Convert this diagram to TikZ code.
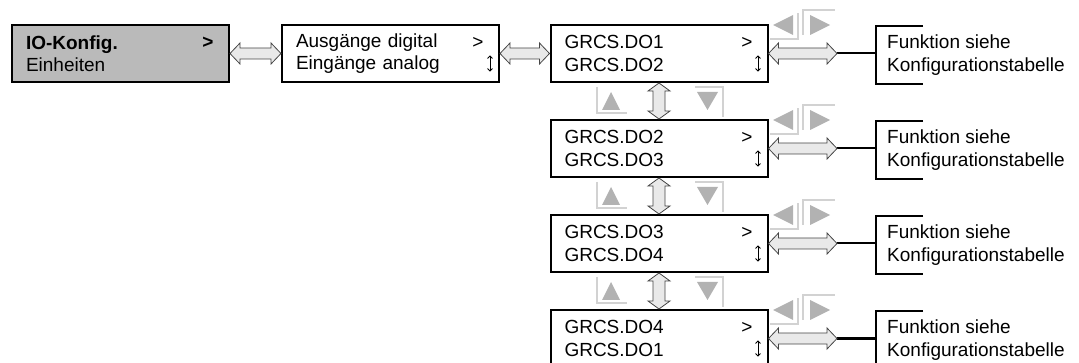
\documentclass[tikz,border=0pt]{standalone}
\usepackage{fontspec}
\setmainfont{Liberation Sans}
\usetikzlibrary{positioning,calc,arrows.meta}

% Blockpfeile zwischen zwei Punkten
\newcommand{\hpfeil}[2]{%
  \path[pfeil] let \p1=(#1), \p2=(#2) in
    (\x1,\y1) -- (\x1+10pt,\y1+10.5pt) -- (\x1+10pt,\y1+5.5pt) -- (\x2-10pt,\y1+5.5pt)
    -- (\x2-10pt,\y1+10.5pt) -- (\x2,\y1) -- (\x2-10pt,\y1-10.5pt) -- (\x2-10pt,\y1-5.5pt)
    -- (\x1+10pt,\y1-5.5pt) -- (\x1+10pt,\y1-10.5pt) -- cycle;}
\newcommand{\vpfeil}[2]{%
  \path[pfeil] let \p1=(#1), \p2=(#2) in
    (\x1,\y1) -- (\x1+11pt,\y1-8pt) -- (\x1+6pt,\y1-8pt) -- (\x1+6pt,\y2+8pt)
    -- (\x1+11pt,\y2+8pt) -- (\x1,\y2) -- (\x1-11pt,\y2+8pt) -- (\x1-6pt,\y2+8pt)
    -- (\x1-6pt,\y1-8pt) -- (\x1-11pt,\y1-8pt) -- cycle;}

\begin{document}
\begin{tikzpicture}[
    x=1pt, y=-1pt,
    box/.style={
        draw=black,
        line width=2pt,
        minimum width=217pt,
        minimum height=57pt,
        text width=189pt,
        inner xsep=14pt,
        inner ysep=0pt,
        align=left,
        font=\fontsize{19}{22.5}\selectfont
    },
    zeichen/.style={inner sep=0pt, font=\fontsize{19}{22.5}\selectfont},
    scroll/.style={inner sep=0pt, minimum width=6pt, minimum height=16pt},
    scrollpfeil/.style={{Straight Barb[length=2.5pt,width=5pt]}-{Straight Barb[length=2.5pt,width=5pt]}, line width=0.9pt},
    funktion/.style={
        minimum height=57pt,
        inner xsep=11pt,
        inner ysep=0pt,
        align=left,
        font=\fontsize{19}{22.5}\selectfont
    },
    pfeil/.style={draw=gray!55!black, fill=gray!17, line width=0.8pt},
    taste/.style={fill=gray!60, draw=none},
    tastenrand/.style={draw=gray!35, line width=1.6pt},
    klammer/.style={draw=black, line width=2pt}
]
\useasboundingbox (0,0) rectangle (1079,363);

% Menue links
\node[box, fill=black!27] (k1) at (120.5,53.5) {\textbf{IO-Konfig.}\\Einheiten};
\node[zeichen] (k1g) at (208,42.5) {\textbf{>}};

\node[box] (k2) at (390.5,53.5) {Ausgänge digital\\Eingänge analog};
\node[zeichen] (k2g) at (478,42.5) {>};
\node[scroll] (k2p) at (490,63.5) {};
\draw[scrollpfeil] (k2p.north) -- (k2p.south);

\hpfeil{k1.east}{k2.west}

% Ausgaenge
\foreach \i/\a/\b in {1/DO1/DO2, 2/DO2/DO3, 3/DO3/DO4, 4/DO4/DO1} {
    \pgfmathsetmacro{\cy}{53.5+95*(\i-1)}
    \node[box] (d\i) at (659,\cy) {GRCS.\a\\GRCS.\b};
    \node[zeichen] (d\i g) at (747,\cy-11) {>};
    \node[scroll] (d\i p) at (758,\cy+10) {};
    \draw[scrollpfeil] (d\i p.north) -- (d\i p.south);

    % Funktion
    \coordinate (e\i) at (837,\cy);
    \node[funktion, anchor=west] (f\i) at (876,\cy+1.5) {Funktion siehe\\Konfigurationstabelle};
    \draw[klammer] ([xshift=47pt]f\i.north west) -- (f\i.north west)
        -- (f\i.south west) -- ([xshift=47pt]f\i.south west);
    \draw[klammer] (e\i) -- (f\i.west |- e\i);
    \hpfeil{d\i.east}{e\i}

    % Tasten links/rechts
    \fill[taste] (773,\cy-28.5) -- (793,\cy-38.5) -- (793,\cy-18.5) -- cycle;
    \fill[taste] (830,\cy-28.5) -- (810,\cy-38.5) -- (810,\cy-18.5) -- cycle;
    \draw[tastenrand] (770,\cy-14.5) -- (798,\cy-14.5) -- (798,\cy-40.5);
    \draw[tastenrand] (803,\cy-18.5) -- (803,\cy-43.5) -- (835,\cy-43.5);
}

\hpfeil{k2.east}{d1.west}

% Tasten auf/ab
\foreach \i [evaluate=\i as \j using int(\i+1)] in {1,2,3} {
    \pgfmathsetmacro{\gy}{101+95*(\i-1)}
    \vpfeil{d\i.south}{d\j.north}
    \fill[taste] (611,\gy-9) -- (620,\gy+9) -- (602,\gy+9) -- cycle;
    \draw[tastenrand] (597,\gy-14) -- (597,\gy+12) -- (627,\gy+12);
    \fill[taste] (697,\gy-9) -- (718,\gy-9) -- (707.5,\gy+9) -- cycle;
    \draw[tastenrand] (695,\gy-14) -- (723,\gy-14) -- (723,\gy+16);
}

\end{tikzpicture}
\end{document}
